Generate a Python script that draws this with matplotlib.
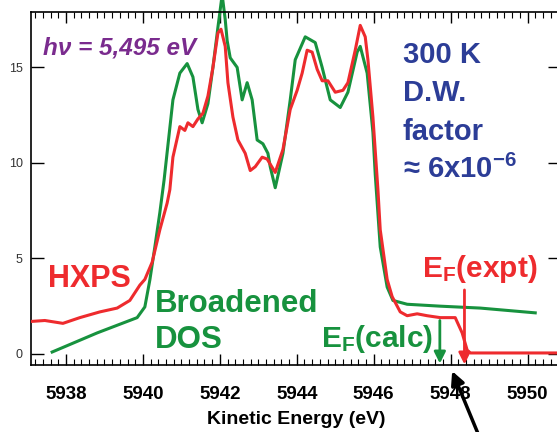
import numpy as np
import matplotlib.pyplot as plt
from matplotlib.ticker import MultipleLocator

plt.rcParams['font.family'] = ['Liberation Sans', 'DejaVu Sans']
plt.rcParams['mathtext.fontset'] = 'custom'
plt.rcParams['mathtext.rm'] = 'Liberation Sans:bold'
plt.rcParams['mathtext.bf'] = 'Liberation Sans:bold'
plt.rcParams['mathtext.default'] = 'bf'

# Broadened DOS (green)
dos_x = [5937.64, 5938.81, 5939.85, 5940.05, 5940.18, 5940.31, 5940.44, 5940.55,
         5940.78, 5940.96, 5941.15, 5941.30, 5941.43, 5941.54, 5941.69, 5941.82,
         5941.95, 5942.06, 5942.14, 5942.19, 5942.27, 5942.45, 5942.58, 5942.71,
         5942.84, 5942.97, 5943.12, 5943.25, 5943.31, 5943.44, 5943.64, 5943.83,
         5943.96, 5944.22, 5944.48, 5944.66, 5944.87, 5945.13, 5945.33, 5945.57,
         5945.65, 5945.83, 5945.98, 5946.04, 5946.17, 5946.35, 5946.50, 5946.87,
         5947.73, 5948.77, 5950.20]
dos_y = [0.1, 1.1, 1.9, 2.46, 3.87, 5.6, 7.4, 9.1,
         13.3, 14.7, 15.2, 14.5, 12.8, 12.1, 13.1, 15.0,
         17.1, 18.8, 17.5, 16.4, 15.5, 15.0, 13.3, 14.2,
         13.3, 11.2, 11.0, 10.5, 9.8, 8.7, 10.5, 13.3,
         15.4, 16.6, 16.3, 15.0, 13.3, 12.9, 13.7, 15.8,
         16.1, 14.7, 11.6, 9.4, 5.6, 3.5, 2.8, 2.6,
         2.5, 2.4, 2.15]

# HXPS measurement (red)
hx_x = [5937.09, 5937.45, 5937.92, 5938.36, 5938.88, 5939.33, 5939.66, 5939.92,
        5940.05, 5940.24, 5940.44, 5940.63, 5940.70, 5940.78, 5940.96, 5941.09,
        5941.17, 5941.30, 5941.43, 5941.56, 5941.69, 5941.82, 5941.95, 5942.03,
        5942.14, 5942.21, 5942.34, 5942.47, 5942.66, 5942.79, 5942.92, 5943.10,
        5943.23, 5943.44, 5943.64, 5943.83, 5944.01, 5944.14, 5944.27, 5944.40,
        5944.53, 5944.66, 5944.81, 5945.00, 5945.20, 5945.33, 5945.52, 5945.65,
        5945.78, 5945.85, 5945.98, 5946.11, 5946.17, 5946.35, 5946.48, 5946.69,
        5946.87, 5947.13, 5947.39, 5947.73, 5948.12, 5948.30, 5948.43, 5948.51,
        5951.0]
hx_y = [1.7, 1.75, 1.6, 1.9, 2.2, 2.4, 2.8, 3.6,
        3.9, 4.8, 6.5, 7.9, 8.6, 10.3, 11.9, 11.7,
        12.1, 11.9, 12.3, 12.6, 13.5, 15.0, 16.8, 17.0,
        16.1, 14.2, 12.4, 11.2, 10.5, 9.6, 9.8, 10.3,
        10.2, 9.5, 10.7, 12.8, 13.8, 14.7, 15.9, 15.8,
        14.9, 14.3, 14.3, 13.7, 13.8, 14.2, 15.9, 17.2,
        16.6, 15.4, 12.4, 8.6, 6.5, 3.9, 3.0, 2.2,
        2.0, 2.1, 2.0, 1.9, 1.9, 1.1, 0.2, 0.05,
        0.05]

ef_calc = 5947.72
ef_expt = 5948.36

red = '#ee2b2e'
green = '#17923e'
purple = '#7a2b8e'
blue = '#2c3d97'

fig = plt.figure(figsize=(5.57, 4.32), dpi=100)
ax = fig.add_axes([31/557, 1-365/432, (561-31)/557, (365-12)/432])

ax.plot(hx_x, hx_y, color=red, lw=2.2, zorder=3)
ax.plot(dos_x, dos_y, color=green, lw=2.2, zorder=2, clip_on=False)

ax.set_xlim(5937.09, 5950.87)
ax.set_ylim(-0.58, 17.9)

ax.xaxis.set_major_locator(MultipleLocator(2))
ax.xaxis.set_minor_locator(MultipleLocator(0.2))
ax.yaxis.set_major_locator(MultipleLocator(5))
ax.tick_params(axis='x', which='major', direction='in', length=8, width=1,
               top=True, bottom=True, pad=15, labelsize=13.5)
ax.tick_params(axis='x', which='minor', direction='in', length=4, width=0.8,
               top=True, bottom=True)
ax.tick_params(axis='y', which='major', direction='in', length=9.5, width=1,
               left=True, right=True, pad=6, labelsize=9, labelcolor='#333333')
for lab in ax.get_xticklabels():
    lab.set_fontweight('bold')
for sp in ax.spines.values():
    sp.set_linewidth(1.2)

ax.set_xlabel('Kinetic Energy (eV)', fontsize=14, fontweight='bold', labelpad=6)

ax.text(0.022, 0.88, 'hν = 5,495 eV', transform=ax.transAxes, color=purple,
        fontsize=17.5, fontweight='bold', fontstyle='italic', va='baseline')
ax.text(0.701, 0.855, '300 K', transform=ax.transAxes, color=blue,
        fontsize=21, fontweight='bold', va='baseline')
ax.text(0.701, 0.747, 'D.W.', transform=ax.transAxes, color=blue,
        fontsize=21, fontweight='bold', va='baseline')
ax.text(0.701, 0.637, 'factor', transform=ax.transAxes, color=blue,
        fontsize=21, fontweight='bold', va='baseline')
ax.text(0.701, 0.529, '≈ 6x10$^{-6}$', transform=ax.transAxes, color=blue,
        fontsize=21, fontweight='bold', va='baseline')
ax.text(0.032, 0.222, 'HXPS', transform=ax.transAxes, color=red,
        fontsize=22, fontweight='bold', va='baseline')
ax.text(0.233, 0.15, 'Broadened', transform=ax.transAxes, color=green,
        fontsize=22.5, fontweight='bold', va='baseline')
ax.text(0.233, 0.048, 'DOS', transform=ax.transAxes, color=green,
        fontsize=22.5, fontweight='bold', va='baseline')
ax.text(0.548, 0.051, r'E$_{F}$(calc)', transform=ax.transAxes, color=green,
        fontsize=21.5, fontweight='bold', va='baseline')
ax.text(0.738, 0.249, r'E$_{F}$(expt)', transform=ax.transAxes, color=red,
        fontsize=21.5, fontweight='bold', va='baseline')

ax.annotate('', xy=(ef_calc, -0.5), xytext=(ef_calc, 1.75),
            arrowprops=dict(arrowstyle='-|>', color=green, lw=2,
                            mutation_scale=17, shrinkA=0, shrinkB=0), zorder=4)
ax.annotate('', xy=(ef_expt, -0.55), xytext=(ef_expt, 3.35),
            arrowprops=dict(arrowstyle='-|>', color=red, lw=2,
                            mutation_scale=17, shrinkA=0, shrinkB=0), zorder=4)
ax.annotate('', xy=(5948.04, -0.9), xytext=(5948.8, -4.6),
            arrowprops=dict(arrowstyle='-|>', color='black', lw=2.5,
                            mutation_scale=20, shrinkA=0, shrinkB=0),
            annotation_clip=False, zorder=5)

fig.savefig('out.png', dpi=100)
